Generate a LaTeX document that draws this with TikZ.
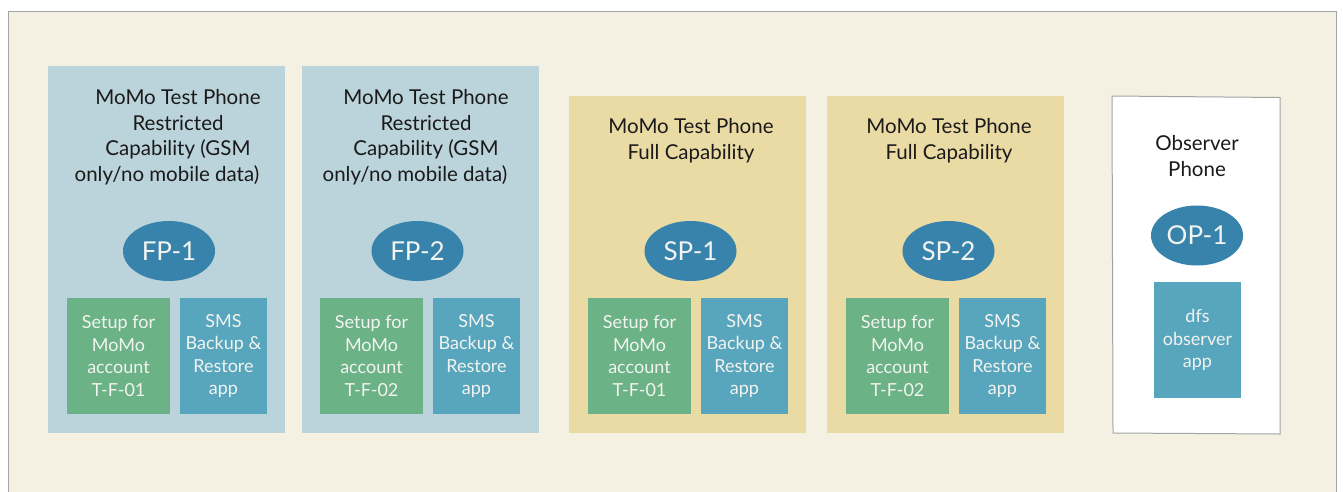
\documentclass[tikz,border=0pt]{standalone}
\usepackage{fontspec}
\setmainfont{Lato}
\usetikzlibrary{shapes.geometric}

\definecolor{pagebg}{HTML}{F4F0E2}
\definecolor{framegray}{HTML}{A4A4A4}
\definecolor{restrictfill}{HTML}{BBD3DB}
\definecolor{fullfill}{HTML}{EADBA5}
\definecolor{tagblue}{HTML}{3783AB}
\definecolor{setupgreen}{HTML}{6CB287}
\definecolor{appblue}{HTML}{58A5BE}
\definecolor{titleink}{HTML}{1A1A1A}
\definecolor{lightink}{HTML}{F2F4F0}

\tikzset{
  phonebox/.style={rectangle, inner sep=0pt, draw=none},
  restricted/.style={phonebox, fill=restrictfill, minimum width=237pt, minimum height=367pt},
  full/.style={phonebox, fill=fullfill, minimum width=237pt, minimum height=337pt},
  title/.style={align=center, text=titleink, inner sep=0pt,
    font=\fontsize{20.5}{25.5}\selectfont},
  tag/.style={ellipse, fill=tagblue, text=lightink, inner sep=0pt,
    minimum width=92pt, minimum height=60pt, font=\fontsize{26}{30}\selectfont},
  setupbox/.style={rectangle, fill=setupgreen, text=lightink, align=center,
    minimum width=103pt, minimum height=116pt, inner sep=0pt,
    font=\fontsize{18}{22.5}\selectfont},
  appbox/.style={rectangle, fill=appblue, text=lightink, align=center,
    minimum width=87pt, minimum height=116pt, inner sep=0pt,
    font=\fontsize{18}{22.5}\selectfont},
}

\begin{document}
\begin{tikzpicture}[x=1pt, y=-1pt]
  \useasboundingbox (0,0) rectangle (1343,491);
  % outer panel
  \fill[white] (0,0) rectangle (1343,491);
  \path[fill=pagebg, draw=framegray, line width=1pt] (8,11) -- (1336,11) -- (1336,495) -- (8,495) -- cycle;

  % restricted-capability phones
  \node[restricted] (fp1box) at (166,249.5) {};
  \node[restricted] (fp2box) at (420,249.5) {};
  \node[title] (fp1title) at (178,137)
    {MoMo Test Phone\\Restricted\\Capability (GSM\\only/no mobile data)\hspace*{22pt}};
  \node[title] (fp2title) at (426,137)
    {MoMo Test Phone\\Restricted\\Capability (GSM\\only/no mobile data)\hspace*{22pt}};
  \node[tag] (fp1) at (169,251) {FP-1};
  \node[tag] (fp2) at (417.5,251) {FP-2};
  \node[setupbox] (fp1setup) at (118.5,356) {Setup for\\MoMo\\account\\T-F-01};
  \node[appbox] (fp1app) at (223.5,356) {SMS\\Backup \&\\Restore\\app};
  \node[setupbox] (fp2setup) at (371.5,356) {Setup for\\MoMo\\account\\T-F-02};
  \node[appbox] (fp2app) at (476.5,356) {SMS\\Backup \&\\Restore\\app};

  % full-capability phones
  \node[full] (sp1box) at (687.5,264.5) {};
  \node[full] (sp2box) at (945.5,264.5) {};
  \node[title] (sp1title) at (691,140.5) {MoMo Test Phone\\Full Capability};
  \node[title] (sp2title) at (949,140.5) {MoMo Test Phone\\Full Capability};
  \node[tag] (sp1) at (690.5,251) {SP-1};
  \node[tag] (sp2) at (948.5,251) {SP-2};
  \node[setupbox] (sp1setup) at (639.5,356) {Setup for\\MoMo\\account\\T-F-01};
  \node[appbox] (sp1app) at (744.5,356) {SMS\\Backup \&\\Restore\\app};
  \node[setupbox] (sp2setup) at (897.5,356) {Setup for\\MoMo\\account\\T-F-02};
  \node[appbox] (sp2app) at (1002.5,356) {SMS\\Backup \&\\Restore\\app};

  % observer phone (slightly skewed white card)
  \path[fill=white, draw=framegray, line width=1pt]
    (1112,96) -- (1280,97.5) -- (1280,434) -- (1113,433) -- cycle;
  \node[title] (optitle) at (1197,156) {Observer\\Phone};
  \node[tag] (op1) at (1197,235.5) {OP-1};
  \node[appbox] (opapp) at (1197.5,340) {dfs\\observer\\app};
\end{tikzpicture}
\end{document}
